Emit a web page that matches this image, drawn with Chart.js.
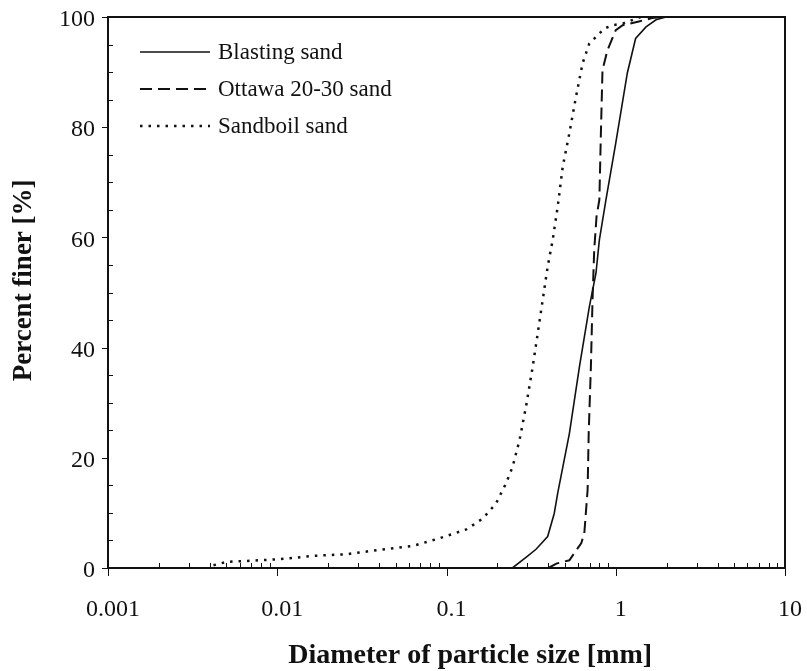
<!DOCTYPE html>
<html>
<head>
<meta charset="utf-8">
<title>Grain size distribution</title>
<script src="https://cdn.jsdelivr.net/npm/chart.js@4.4.1/dist/chart.umd.min.js"></script>
<style>
  html, body { margin: 0; padding: 0; background: #fff; }
  #wrap { width: 807px; height: 671px; }
</style>
</head>
<body>
<div id="wrap"><canvas id="gradation" width="807" height="671"></canvas></div>
<script>
/* =========================
   DATA
========================= */
const seriesNames = ["Blasting sand", "Ottawa 20-30 sand", "Sandboil sand"];
const xTitle = "Diameter of particle size [mm]";
const yTitle = "Percent finer [%]";

// particle diameter [mm] / percent finer [%]
const blastingSize = [0.245, 0.30, 0.338, 0.396, 0.433, 0.454, 0.532, 0.61, 0.698, 0.764, 0.80, 0.875, 1.0, 1.17, 1.31, 1.51, 1.73, 1.98];
const blastingPct  = [0, 2.1, 3.4, 5.7, 9.9, 13.6, 24.4, 36.5, 47.4, 53.5, 59.5, 66.8, 77.1, 89.8, 96.1, 98.2, 99.5, 100];

const ottawaSize = [0.40, 0.446, 0.532, 0.569, 0.625, 0.652, 0.682, 0.692, 0.713, 0.729, 0.746, 0.77, 0.80, 0.817, 0.835, 0.894, 1.0, 1.1, 1.37, 1.64, 1.9];
const ottawaPct  = [0, 0.8, 1.4, 2.7, 4.5, 6.3, 14.2, 24.4, 36.5, 48.6, 57.7, 63.8, 66.8, 78.9, 90.4, 94.0, 97.6, 98.5, 99.2, 99.8, 100];

const sandboilSize = [0.0042, 0.005, 0.0104, 0.0163, 0.0256, 0.0402, 0.0633, 0.091, 0.131, 0.164, 0.196, 0.225, 0.246, 0.27, 0.295, 0.323, 0.346, 0.37, 0.396, 0.424, 0.454, 0.486, 0.532, 0.582, 0.637, 0.698, 0.764, 0.855, 0.957, 1.1, 1.4];
const sandboilPct  = [0.5, 1.1, 1.6, 2.2, 2.5, 3.3, 4.0, 5.4, 7.0, 9.0, 11.7, 15.4, 18.4, 23.2, 29.3, 36.5, 42.6, 48.6, 54.7, 59.5, 65.6, 72.8, 78.9, 85.5, 91.6, 95.2, 96.4, 97.9, 98.5, 98.8, 100];

// axis ticks
const xTickValues = [0.001, 0.01, 0.1, 1, 10];
const yTickValues = [0, 20, 40, 60, 80, 100];

/* =========================
   HELPERS
========================= */
const INK = "#111";
const SERIF = "'Liberation Serif', 'Times New Roman', serif";

function toPoints(xs, ys) {
  return xs.map((x, i) => ({ x, y: ys[i] }));
}

function line(ctx, x1, y1, x2, y2) {
  ctx.beginPath();
  ctx.moveTo(x1, y1);
  ctx.lineTo(x2, y2);
  ctx.stroke();
}

// keep the plot box fixed: no extra room for overhanging tick labels
function noScalePadding(s) {
  s.paddingLeft = 0;
  s.paddingRight = 0;
  s.paddingTop = 0;
  s.paddingBottom = 0;
}

// frame box + Excel style ticks (majors outside, minors inside)
const frameTicks = {
  id: "frameTicks",
  afterDatasetsDraw(chart) {
    const { ctx, chartArea: a, scales: { x, y } } = chart;
    ctx.save();
    ctx.strokeStyle = INK;
    ctx.lineWidth = 1;

    for (let d = 0; d < xTickValues.length - 1; d++) {
      for (let m = 2; m <= 9; m++) {
        const px = Math.round(x.getPixelForValue(xTickValues[d] * m)) + 0.5;
        line(ctx, px, a.bottom, px, a.bottom - 5);
      }
    }
    xTickValues.forEach(v => {
      const px = Math.round(x.getPixelForValue(v)) + 0.5;
      line(ctx, px, a.bottom, px, a.bottom + 8);
    });

    for (let v = 5; v < 100; v += 5) {
      if (v % 20 === 0) continue;
      const py = Math.round(y.getPixelForValue(v)) + 0.5;
      line(ctx, a.left, py, a.left + 5, py);
    }
    yTickValues.forEach(v => {
      const py = Math.round(y.getPixelForValue(v)) + 0.5;
      line(ctx, a.left - 6, py, a.left, py);
    });

    ctx.lineWidth = 2;
    ctx.strokeRect(a.left, a.top, a.right - a.left, a.bottom - a.top);
    ctx.restore();
  }
};

// axis titles, sitting a little off centre like the old spreadsheet export
const axisTitles = {
  id: "axisTitles",
  afterDraw(chart) {
    const { ctx, chartArea: a } = chart;
    ctx.save();
    ctx.fillStyle = INK;
    ctx.textAlign = "center";
    ctx.textBaseline = "middle";

    ctx.font = "bold 28px " + SERIF;
    ctx.fillText(xTitle, a.left + (a.right - a.left) * 0.535, a.bottom + 88);

    ctx.font = "bold 27px " + SERIF;
    ctx.translate(24, a.top + (a.bottom - a.top) * 0.478);
    ctx.rotate(-Math.PI / 2);
    ctx.fillText(yTitle, 0, 0);
    ctx.restore();
  }
};

// legend drawn inside the plot, upper left
const insideLegend = {
  id: "insideLegend",
  afterDraw(chart) {
    const { ctx, chartArea: a } = chart;
    ctx.save();
    ctx.font = "23px " + SERIF;
    ctx.fillStyle = INK;
    ctx.textBaseline = "middle";
    chart.data.datasets.forEach((ds, i) => {
      const cy = a.top + 35 + i * 37;
      ctx.strokeStyle = INK;
      ctx.lineWidth = ds.borderWidth;
      ctx.setLineDash(ds.borderDash || []);
      line(ctx, a.left + 32, cy, a.left + 102, cy);
      ctx.setLineDash([]);
      ctx.fillText(ds.label, a.left + 110, cy + 1);
    });
    ctx.restore();
  }
};

/* =========================
   CHART
========================= */
new Chart(document.getElementById("gradation"), {
  type: "scatter",
  data: {
    datasets: [
      {
        label: seriesNames[0],
        data: toPoints(blastingSize, blastingPct),
        borderColor: INK,
        borderWidth: 1.6
      },
      {
        label: seriesNames[1],
        data: toPoints(ottawaSize, ottawaPct),
        borderColor: INK,
        borderWidth: 2,
        borderDash: [12, 6]
      },
      {
        label: seriesNames[2],
        data: toPoints(sandboilSize, sandboilPct),
        borderColor: INK,
        borderWidth: 2.5,
        borderDash: [2.5, 6]
      }
    ]
  },
  options: {
    responsive: false,
    animation: false,
    showLine: true,
    elements: { point: { radius: 0 }, line: { tension: 0 } },
    layout: { padding: { left: 0, top: 17, right: 22, bottom: 0 } },
    plugins: {
      legend: { display: false },
      tooltip: { enabled: false }
    },
    scales: {
      x: {
        type: "logarithmic",
        min: 0.001,
        max: 10,
        afterBuildTicks: s => { s.ticks = xTickValues.map(v => ({ value: v })); },
        afterFit: s => { s.height = 103; noScalePadding(s); },
        grid: { display: false, drawTicks: false },
        border: { display: false },
        ticks: {
          color: INK,
          font: { family: SERIF, size: 24 },
          padding: 27,
          labelOffset: 5,
          maxRotation: 0,
          callback: v => String(v)
        }
      },
      y: {
        min: 0,
        max: 100,
        afterBuildTicks: s => { s.ticks = yTickValues.map(v => ({ value: v })); },
        afterFit: s => { s.width = 108; noScalePadding(s); },
        grid: { display: false, drawTicks: false },
        border: { display: false },
        ticks: {
          color: INK,
          font: { family: SERIF, size: 24 },
          padding: 13,
          labelOffset: 3
        }
      }
    }
  },
  plugins: [frameTicks, axisTitles, insideLegend]
});
</script>
</body>
</html>
